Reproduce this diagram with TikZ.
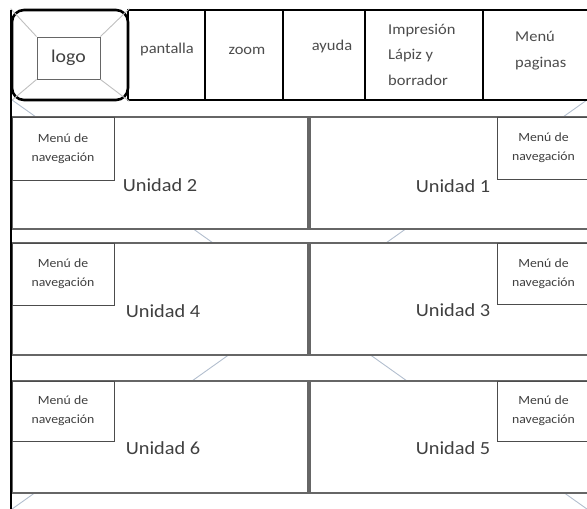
\documentclass[tikz,border=0pt]{standalone}
\usepackage{fontspec}
\setmainfont[FakeStretch=1.1]{Carlito}
\definecolor{lineagris}{RGB}{178,190,206}
\begin{document}
\begin{tikzpicture}[x=1pt,y=-1pt]

\tikzstyle{celda}=[rectangle,draw=black,line width=2.6pt,minimum height=90pt,inner sep=0pt]
\tikzstyle{unidad}=[rectangle,draw=black!60,fill=white,line width=1.5pt,inner sep=0pt]
\tikzstyle{menu}=[rectangle,draw=black!70,fill=white,line width=1pt,inner sep=0pt,align=center,text=black!75,font=\fontsize{12.5}{19}\selectfont]
\tikzstyle{titulo}=[text=black!75,font=\fontsize{18.5}{22}\selectfont,inner sep=0pt]
\tikzstyle{texto}=[text=black!70,font=\fontsize{15}{25.5}\selectfont,inner sep=0pt,align=left]
\tikzstyle{diag}=[draw=lineagris,line width=0.9pt]

\useasboundingbox (0,0) rectangle (587,509);

%fondo.
\node[minimum width=575pt,minimum height=409pt,inner sep=0pt] (fondo) at (299.5,304.5) {};
\draw[diag] (fondo.north west) -- (fondo.south east);
\draw[diag] (fondo.north east) -- (fondo.south west);

%unidades.
\node[unidad,minimum width=296pt,minimum height=112pt] (caja2) at (160,173) {};
\node[unidad,minimum width=280pt,minimum height=112pt] (caja1) at (450,173) {};
\node[unidad,minimum width=296pt,minimum height=112pt] (caja4) at (160,299) {};
\node[unidad,minimum width=280pt,minimum height=112pt] (caja3) at (450,299) {};
\node[unidad,minimum width=296pt,minimum height=112pt] (caja6) at (160,437) {};
\node[unidad,minimum width=280pt,minimum height=112pt] (caja5) at (450,437) {};

\node[titulo] (unidad2) at (160,185) {Unidad 2};
\node[titulo] (unidad1) at (453,186) {Unidad 1};
\node[titulo] (unidad4) at (163,311) {Unidad 4};
\node[titulo] (unidad3) at (453,310) {Unidad 3};
\node[titulo] (unidad6) at (163,448) {Unidad 6};
\node[titulo] (unidad5) at (453,448) {Unidad 5};

%menus de navegacion.
\node[menu,minimum width=102pt,minimum height=63pt] (menu2) at (63,148.5) {Menú de\\navegación};
\node[menu,minimum width=93pt,minimum height=62pt] (menu1) at (543.5,148) {Menú de\\navegación};
\node[menu,minimum width=102pt,minimum height=62pt] (menu4) at (63,274) {Menú de\\navegación};
\node[menu,minimum width=93pt,minimum height=61pt] (menu3) at (543.5,273.5) {Menú de\\navegación};
\node[menu,minimum width=102pt,minimum height=60pt] (menu6) at (63,411) {Menú de\\navegación};
\node[menu,minimum width=93pt,minimum height=60pt] (menu5) at (543.5,411) {Menú de\\navegación};

%barra superior.
\node[celda,rounded corners=12pt,minimum width=116pt] (celdalogo) at (70,55) {};
\node[celda,minimum width=77pt] (pantalla) at (166.5,55) {};
\node[celda,minimum width=78pt] (zoom) at (244,55) {};
\node[celda,minimum width=82pt] (ayuda) at (324,55) {};
\node[celda,minimum width=118pt] (impresion) at (424,55) {};
\node[celda,minimum width=107pt] (paginas) at (536.5,55) {};

\node[rectangle,draw=black!60,line width=1pt,minimum width=63pt,minimum height=42pt,inner sep=0pt,text=black!75,font=\fontsize{18}{22}\selectfont] (logo) at (68.5,58) {logo};
\draw[diag,draw=black!25] (celdalogo.north west) -- (logo.north west);
\draw[diag,draw=black!25] (celdalogo.north east) -- (logo.north east);
\draw[diag,draw=black!25] (celdalogo.south west) -- (logo.south west);
\draw[diag,draw=black!25] (celdalogo.south east) -- (logo.south east);

\node[texto,anchor=base] (tpantalla) at (167,53) {pantalla};
\node[texto,anchor=base] (tzoom) at (247,54) {zoom};
\node[texto,anchor=base] (tayuda) at (332,50) {ayuda};
\node[texto,anchor=base west] (timpresion) at (388,85) {Impresión\\Lápiz y\\borrador};
\node[texto,anchor=base west,font=\fontsize{15}{26}\selectfont] (tpaginas) at (515,67) {Menú\\paginas};

\draw[line width=2.6pt] (11,10) -- (11,509);

\end{tikzpicture}
\end{document}
